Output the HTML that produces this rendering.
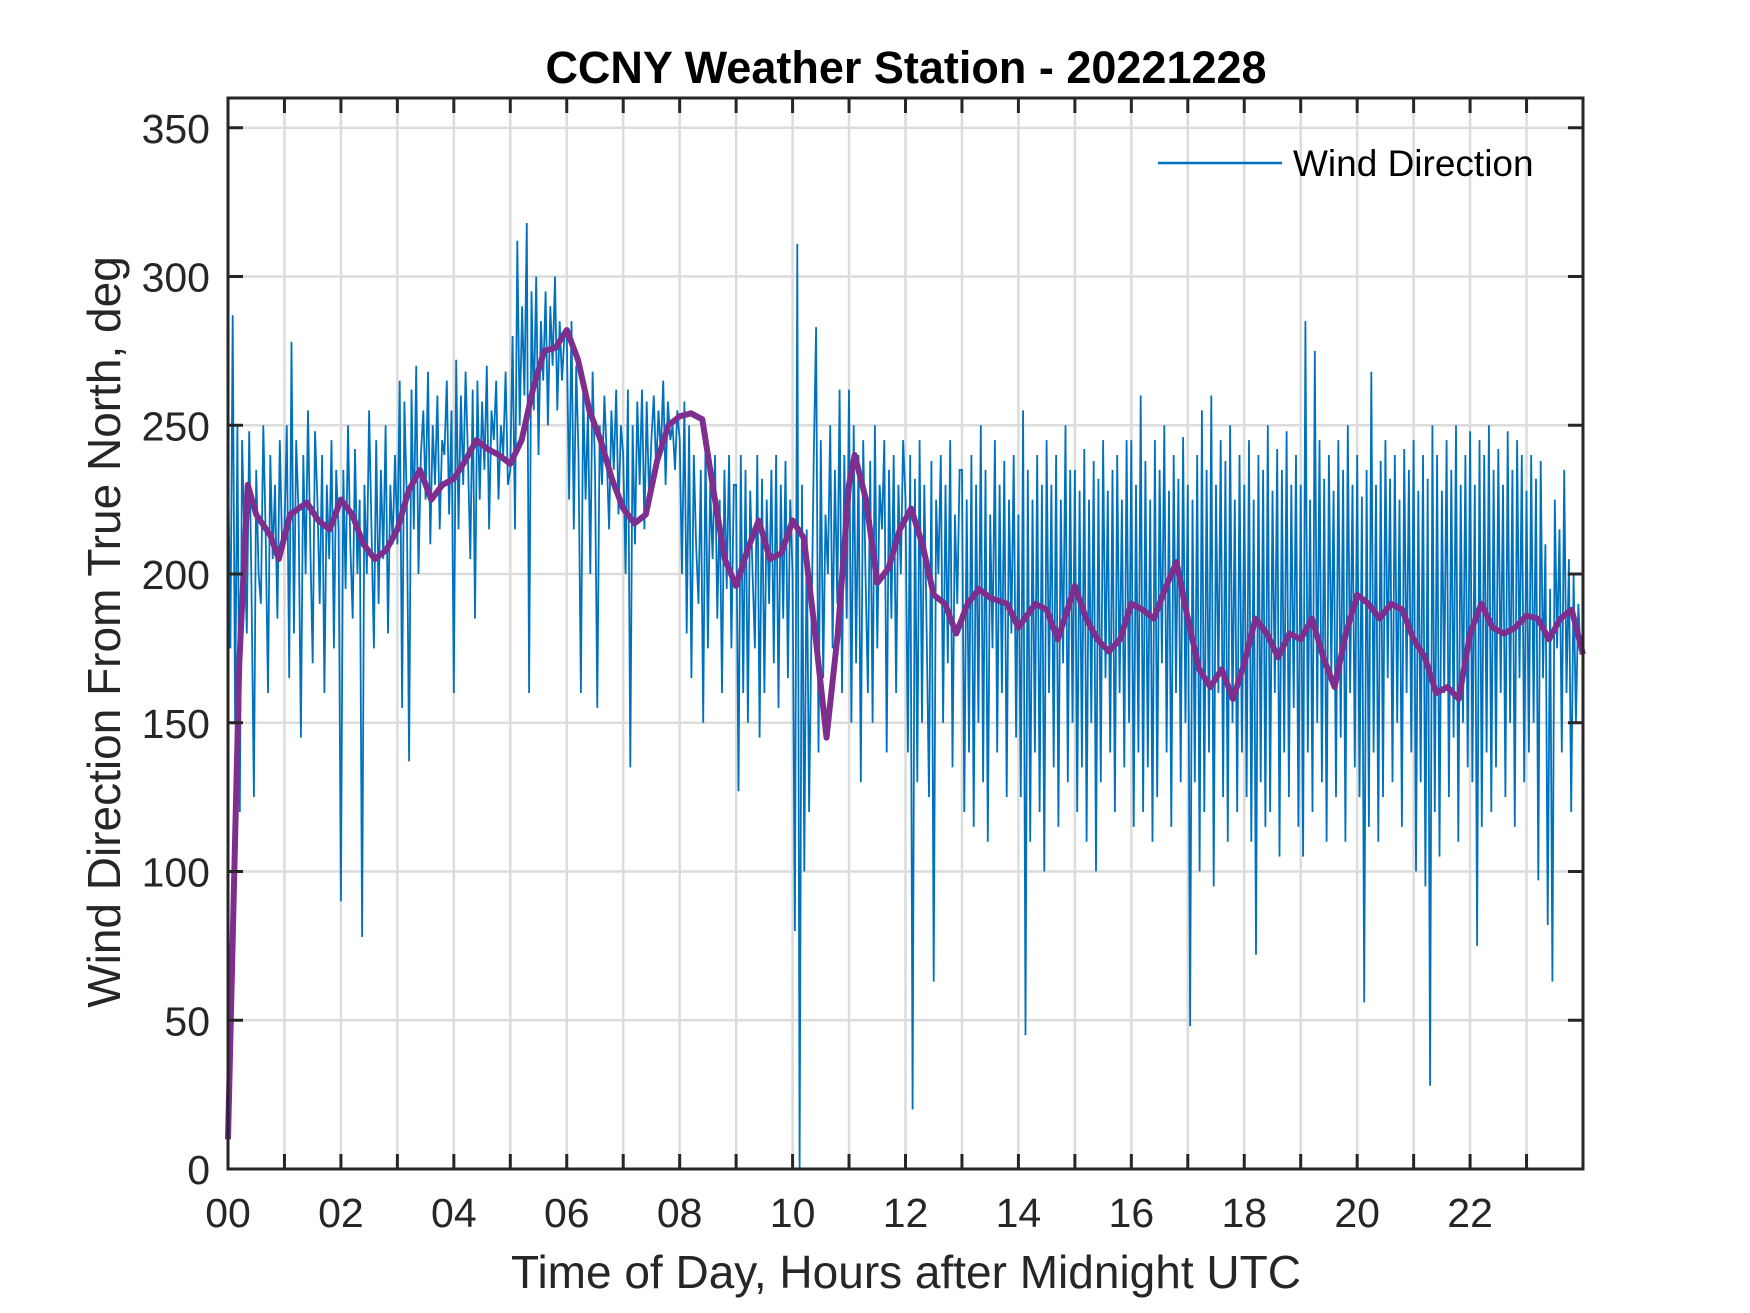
<!DOCTYPE html>
<html><head><meta charset="utf-8"><style>
html,body{margin:0;padding:0;background:#fff;}
svg{display:block;font-family:"Liberation Sans",Arial,sans-serif;}
</style></head><body>
<svg id="chart" width="1750" height="1313" viewBox="0 0 1750 1313" xmlns="http://www.w3.org/2000/svg">
<rect width="1750" height="1313" fill="#fff"/>
<g id="grid"></g>
<g id="series"></g>
<g id="axes"></g>
<text x="906" y="83" text-anchor="middle" font-size="45" font-weight="bold" fill="#000">CCNY Weather Station - 20221228</text>
<text x="906" y="1288" text-anchor="middle" font-size="46" fill="#262626">Time of Day, Hours after Midnight UTC</text>
<text transform="translate(120,632) rotate(-90)" text-anchor="middle" font-size="46" fill="#262626">Wind Direction From True North, deg</text>
<g>
<line x1="1158" y1="163" x2="1282" y2="163" stroke="#0072BD" stroke-width="2.5"/>
<text x="1293" y="176" font-size="37" fill="#000">Wind Direction</text>
</g>
</svg>
<script>
const xTicks = [0,1,2,3,4,5,6,7,8,9,10,11,12,13,14,15,16,17,18,19,20,21,22,23];
const xTickLabels = ["00","","02","","04","","06","","08","","10","","12","","14","","16","","18","","20","","22",""];
const yTicks = [0,50,100,150,200,250,300,350];
const yTickLabels = ["0","50","100","150","200","250","300","350"];
const windRaw = [
240,175,287,150,250,120,245,210,180,248,195,125,235,200,190,250,215,160,240,205,230,185,245,210,
215,250,165,278,180,245,220,145,240,200,255,210,170,248,225,190,240,160,230,205,245,175,235,215,
90,235,195,250,210,185,242,200,225,78,230,200,255,215,175,245,190,235,205,250,180,230,210,240,
210,265,155,258,225,137,262,215,270,200,240,255,225,268,210,250,230,260,215,245,240,265,220,255,
160,272,215,260,230,268,240,205,262,185,265,225,258,235,270,215,255,245,265,225,250,240,268,230,
235,280,215,312,250,290,260,318,160,295,255,300,240,285,265,295,250,290,270,300,255,285,265,280,
280,225,285,215,270,240,160,262,225,255,200,268,235,155,250,230,260,240,215,255,235,262,220,250,
240,200,262,135,250,210,258,230,262,215,258,225,245,260,235,255,240,265,230,258,245,250,235,255,
245,200,258,180,250,165,240,210,190,235,150,245,175,230,205,240,185,225,160,235,195,240,175,230,
230,127,240,160,235,150,228,200,175,240,145,232,160,225,190,235,170,240,155,230,185,238,165,225,
200,80,311,0,230,100,215,120,180,240,283,140,245,165,220,200,250,175,235,190,262,160,240,185,
262,150,250,170,240,130,245,200,160,238,150,250,175,230,215,245,140,235,185,240,160,230,200,245,
225,140,240,20,232,130,245,150,230,180,125,238,63,225,200,240,150,230,170,245,135,220,190,235,
235,120,225,140,240,115,230,150,250,130,235,110,220,175,245,140,230,160,238,125,225,180,240,145,
220,125,255,45,235,110,225,140,240,120,230,100,245,160,230,135,240,115,225,170,250,130,235,150,
235,120,228,135,242,110,225,150,238,100,232,130,245,165,228,140,235,120,240,160,225,135,245,150,
245,115,230,140,260,120,238,135,225,110,245,125,235,170,250,140,228,115,240,160,232,130,246,150,
230,48,225,130,240,100,255,120,235,140,260,95,230,160,245,125,238,110,250,150,225,120,240,140,
230,125,245,110,225,72,240,130,235,115,250,120,228,160,242,105,235,140,248,125,230,155,240,115,
230,105,285,140,225,120,275,150,245,130,232,110,240,165,228,125,245,145,235,110,250,160,230,135,
240,125,226,56,235,115,268,140,230,110,238,125,245,165,232,130,240,150,225,115,242,160,235,140,
245,100,228,130,240,95,232,28,250,120,240,105,228,160,245,125,235,145,250,110,230,150,240,135,
248,130,230,75,245,115,240,140,250,120,235,135,242,160,230,125,248,150,235,115,245,165,240,130,
228,140,240,150,232,97,238,165,210,82,195,63,225,175,215,140,235,160,205,120,200,150,190,173];
const smoothHours = [0,0.1,0.2,0.35,0.5,0.75,0.9,1.1,1.4,1.6,1.8,2.0,2.2,2.4,2.6,2.8,3.0,3.2,3.4,3.6,3.8,4.0,4.2,4.4,4.6,4.8,5.0,5.2,5.4,5.6,5.8,6.0,6.2,6.4,6.6,6.8,7.0,7.2,7.4,7.6,7.8,8.0,8.2,8.4,8.6,8.8,9.0,9.2,9.4,9.6,9.8,10.0,10.2,10.4,10.6,10.8,11.0,11.1,11.3,11.5,11.7,11.9,12.1,12.3,12.5,12.7,12.9,13.1,13.3,13.5,13.8,14.0,14.3,14.5,14.7,15.0,15.2,15.4,15.6,15.8,16.0,16.2,16.4,16.6,16.8,17.0,17.2,17.4,17.6,17.8,18.0,18.2,18.4,18.6,18.8,19.0,19.2,19.4,19.6,19.8,20.0,20.2,20.4,20.6,20.8,21.0,21.2,21.4,21.6,21.8,22.0,22.2,22.4,22.6,22.8,23.0,23.2,23.4,23.6,23.8,24.0];
const smoothValues = [10,90,170,230,220,213,205,220,224,218,215,225,220,210,205,208,215,228,235,225,230,232,238,245,242,240,237,245,262,275,276,282,272,255,245,232,222,217,220,238,250,253,254,252,228,205,196,208,218,205,207,218,212,180,145,180,230,240,225,197,202,215,222,210,193,190,180,190,195,192,190,182,190,188,178,196,185,178,174,178,190,188,185,195,204,185,168,162,168,158,170,185,180,172,180,178,185,172,162,180,193,190,185,190,188,178,172,160,162,158,180,190,182,180,182,186,185,178,185,188,173];

const L=228,R=1583,T=98,B=1169,XMAX=24,YMAX=360;
const xs=h=>L+(h/XMAX)*(R-L);
const ys=v=>B-(v/YMAX)*(B-T);
const NS="http://www.w3.org/2000/svg";
function mk(tag,parent){const e=document.createElementNS(NS,tag);parent.appendChild(e);return e;}
const grid=document.getElementById('grid'),axes=document.getElementById('axes'),series=document.getElementById('series');

xTicks.forEach((h,i)=>{
  const x=xs(h);
  if(h>0){const g=mk('line',grid);
    
    
    g.setAttribute('x1',x);g.setAttribute('x2',x);g.setAttribute('y1',T);g.setAttribute('y2',B);
    g.setAttribute('stroke','#dcdcdc');g.setAttribute('stroke-width','2.5');}
  [[B,B-15],[T,T+15]].forEach(p=>{const t=mk('line',axes);
    
    
    t.setAttribute('x1',x);t.setAttribute('x2',x);t.setAttribute('y1',p[0]);t.setAttribute('y2',p[1]);
    t.setAttribute('stroke','#262626');t.setAttribute('stroke-width','3');});
  if(xTickLabels[i]){const tx=mk('text',axes);
    
    
    tx.setAttribute('x',x);tx.setAttribute('y',1227);tx.setAttribute('text-anchor','middle');
    tx.setAttribute('font-size','41');tx.setAttribute('fill','#262626');tx.textContent=xTickLabels[i];}
});
yTicks.forEach((v,i)=>{
  const y=ys(v);
  if(v>0){const g=mk('line',grid);
    
    
    g.setAttribute('x1',L);g.setAttribute('x2',R);g.setAttribute('y1',y);g.setAttribute('y2',y);
    g.setAttribute('stroke','#dcdcdc');g.setAttribute('stroke-width','2.5');}
  [[L,L+15],[R,R-15]].forEach(p=>{const t=mk('line',axes);
    
    
    t.setAttribute('x1',p[0]);t.setAttribute('x2',p[1]);t.setAttribute('y1',y);t.setAttribute('y2',y);
    t.setAttribute('stroke','#262626');t.setAttribute('stroke-width','3');});
  const tx=mk('text',axes);
  
  
  tx.setAttribute('x',210);tx.setAttribute('y',y+15);tx.setAttribute('text-anchor','end');
  tx.setAttribute('font-size','41');tx.setAttribute('fill','#262626');tx.textContent=yTickLabels[i];
});
const frame=mk('rect',axes);


frame.setAttribute('x',L);frame.setAttribute('y',T);frame.setAttribute('width',R-L);frame.setAttribute('height',B-T);
frame.setAttribute('fill','none');frame.setAttribute('stroke','#262626');frame.setAttribute('stroke-width','3');

const step=XMAX/windRaw.length;
const wp=windRaw.map((v,i)=>xs(i*step).toFixed(1)+','+ys(v).toFixed(1)).join(' ');
const wl=mk('polyline',series);


wl.setAttribute('points',wp);wl.setAttribute('fill','none');wl.setAttribute('stroke','#0072BD');wl.setAttribute('stroke-width','1.8');
const sp=smoothValues.map((v,i)=>xs(smoothHours[i]).toFixed(1)+','+ys(v).toFixed(1)).join(' ');
const sl=mk('polyline',series);


sl.setAttribute('points',sp);sl.setAttribute('fill','none');sl.setAttribute('stroke','#7E2F8E');sl.setAttribute('stroke-width','6');sl.setAttribute('stroke-linejoin','round');
</script>
</body></html>
